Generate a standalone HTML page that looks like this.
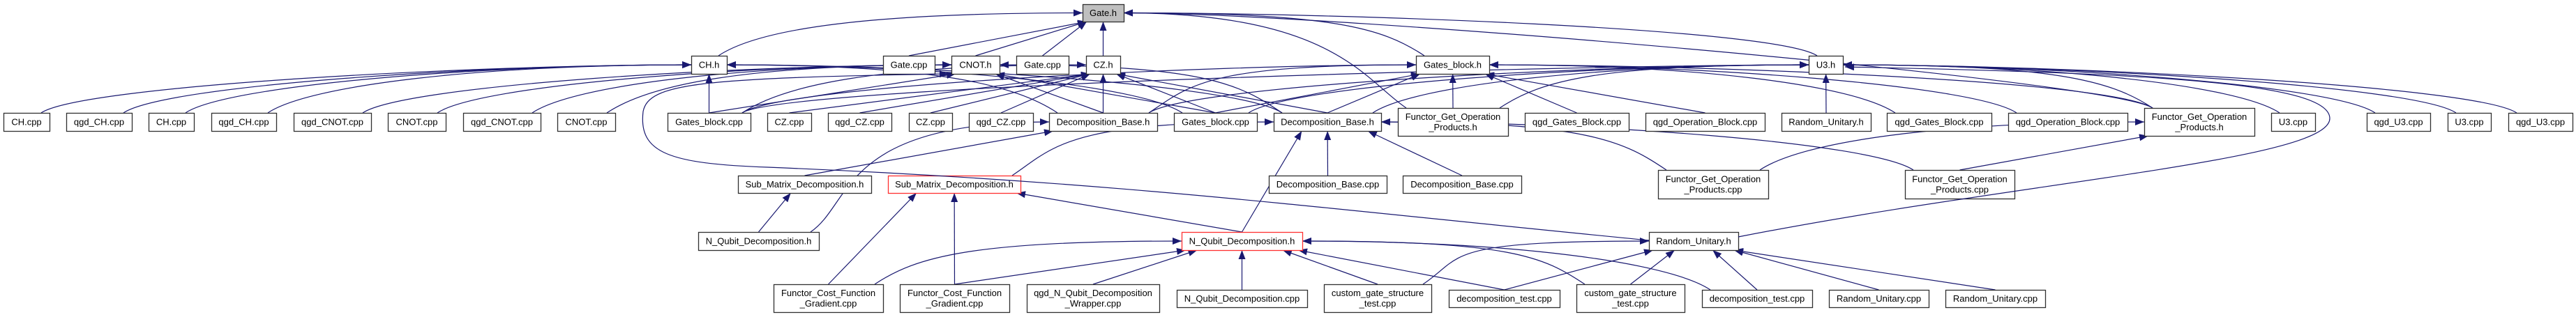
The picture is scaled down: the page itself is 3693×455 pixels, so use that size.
<!DOCTYPE html>
<html><head><meta charset="utf-8"><style>
html,body{margin:0;padding:0;background:#fff;}
svg{display:block;}
text{font-family:"Liberation Sans",sans-serif;font-size:13px;fill:#000;}
</style></head><body>
<svg id="s" width="3693" height="455" viewBox="0 0 3693 455" xmlns="http://www.w3.org/2000/svg">
<defs><marker id="a" markerUnits="userSpaceOnUse" markerWidth="14" markerHeight="12" refX="13" refY="5" orient="auto"><path d="M0,0 L13,5 L0,10 z" fill="#191970"/></marker></defs>
<g id="E" fill="none" stroke="#191970" stroke-width="1.2"></g>
<g id="N"></g>
<path d="M2364,345 C1900,300 1600,260 1100,240 C960,235 915,220 922,160 C930,120 1000,112 1360,106" fill="none" stroke="#191970" stroke-width="1.2" marker-end="url(#a)"/>
<path d="M2492,340 C2900,260 3340,230 3340,170 C3340,120 3100,105 2645,96" fill="none" stroke="#191970" stroke-width="1.2" marker-end="url(#a)"/>
</svg>
<script>
var N={
G:[1552,1611,6,31,["Gate.h"],"g"],
CHh:[991,1042,80,106,["CH.h"]],
Gc1:[1266,1340,80,106,["Gate.cpp"]],
CNh:[1364,1433,80,106,["CNOT.h"]],
Gc2:[1457,1532,80,106,["Gate.cpp"]],
CZh:[1557,1606,80,106,["CZ.h"]],
GBh:[2030,2135,80,106,["Gates_block.h"]],
U3h:[2593,2642,80,106,["U3.h"]],
c1:[5,71,162,188,["CH.cpp"]],
c2:[95,189,162,188,["qgd_CH.cpp"]],
c3:[213,278,162,188,["CH.cpp"]],
c4:[303,396,162,188,["qgd_CH.cpp"]],
c5:[421,532,162,188,["qgd_CNOT.cpp"]],
c6:[556,639,162,188,["CNOT.cpp"]],
c7:[664,775,162,188,["qgd_CNOT.cpp"]],
c8:[799,882,162,188,["CNOT.cpp"]],
GB1:[957,1076,162,188,["Gates_block.cpp"]],
z1:[1100,1163,162,188,["CZ.cpp"]],
z2:[1187,1278,162,188,["qgd_CZ.cpp"]],
z3:[1303,1365,162,188,["CZ.cpp"]],
z4:[1389,1481,162,188,["qgd_CZ.cpp"]],
DB1:[1504,1659,162,188,["Decomposition_Base.h"]],
GB2:[1683,1802,162,188,["Gates_block.cpp"]],
DB2:[1826,1980,162,188,["Decomposition_Base.h"]],
F1:[2004,2162,155,195,["Functor_Get_Operation","_Products.h"]],
qG1:[2186,2335,162,188,["qgd_Gates_Block.cpp"]],
qO1:[2359,2530,162,188,["qgd_Operation_Block.cpp"]],
RU1:[2554,2682,162,188,["Random_Unitary.h"]],
qG2:[2705,2855,162,188,["qgd_Gates_Block.cpp"]],
qO2:[2879,3050,162,188,["qgd_Operation_Block.cpp"]],
F2:[3074,3232,155,195,["Functor_Get_Operation","_Products.h"]],
u1:[3256,3319,162,188,["U3.cpp"]],
u2:[3393,3484,162,188,["qgd_U3.cpp"]],
u3:[3509,3571,162,188,["U3.cpp"]],
u4:[3596,3688,162,188,["qgd_U3.cpp"]],
SM1:[1058,1249,252,277,["Sub_Matrix_Decomposition.h"]],
SM2:[1273,1463,252,277,["Sub_Matrix_Decomposition.h"],"r"],
DC1:[1819,1988,252,277,["Decomposition_Base.cpp"]],
DC2:[2011,2181,252,277,["Decomposition_Base.cpp"]],
FC1:[2377,2535,244,285,["Functor_Get_Operation","_Products.cpp"]],
FC2:[2731,2888,244,285,["Functor_Get_Operation","_Products.cpp"]],
NQ1:[1001,1174,333,359,["N_Qubit_Decomposition.h"]],
NQ2:[1694,1867,333,359,["N_Qubit_Decomposition.h"],"r"],
RU2:[2364,2492,333,359,["Random_Unitary.h"]],
CF1:[1109,1266,408,448,["Functor_Cost_Function","_Gradient.cpp"]],
CF2:[1290,1447,408,448,["Functor_Cost_Function","_Gradient.cpp"]],
W:[1472,1662,408,448,["qgd_N_Qubit_Decomposition","_Wrapper.cpp"]],
NC:[1687,1874,416,441,["N_Qubit_Decomposition.cpp"]],
cg1:[1898,2052,408,448,["custom_gate_structure","_test.cpp"]],
dt1:[2077,2236,416,441,["decomposition_test.cpp"]],
cg2:[2260,2415,408,448,["custom_gate_structure","_test.cpp"]],
dt2:[2440,2598,416,441,["decomposition_test.cpp"]],
RC1:[2622,2765,416,441,["Random_Unitary.cpp"]],
RC2:[2789,2932,416,441,["Random_Unitary.cpp"]]
};
var E={
G:["CHh","Gc1","CNh","Gc2","CZh","GBh","U3h","F1","F2"],
CHh:["c1","c2","c3","c4","GB1","DB1","GB2","DB2"],
CNh:["c5","c6","c7","c8","GB1","DB1","GB2","DB2"],
CZh:["z1","z2","z3","z4","GB1","DB1","GB2","DB2"],
GBh:["GB1","GB2","DB1","DB2","F1","F2","qG1","qO1","qG2","qO2"],
U3h:["GB1","DB1","GB2","DB2","F1","F2","u1","u2","u3","u4","RU1"],
DB1:["SM1","NQ1"],
DB2:["SM2","NQ2","DC1","DC2","FC1","FC2"],
F2:["FC1","FC2"],
SM1:["NQ1"],
SM2:["CF1","CF2","NQ2"],
NQ2:["CF1","CF2","W","NC","cg1","dt1","cg2","dt2"],
RU2:["cg1","dt1","cg2","dt2","RC1","RC2"]
};
var ns="http://www.w3.org/2000/svg",eg=document.getElementById("E"),ng=document.getElementById("N");
function el(t,a,p){var e=document.createElementNS(ns,t);for(var k in a)e.setAttribute(k,a[k]);p.appendChild(e);return e;}
for(var p in E){var P=N[p];E[p].forEach(function(c){var C=N[c];
 var cx=(C[0]+C[1])/2,cy=C[2],pcx=(P[0]+P[1])/2,d;
 var dx=cx-pcx;
 if(Math.abs(dx)>450){
  var px=dx<0?P[0]:P[1],py=(P[2]+P[3])/2;
  var sx=dx<0?C[1]-12:C[0]+12;
  d="M"+sx+","+cy+" C"+(sx+(dx<0?60:-60))+","+(cy-40)+" "+(px+(dx<0?-300:300))+","+py+" "+px+","+py;
 } else {
  var hw=(P[1]-P[0])/2-6;var off=Math.max(-hw,Math.min(hw,dx*0.3));
  var tx=pcx+off,ty=P[3];
  var sx2=cx-dx*0.0;
  d="M"+sx2+","+cy+" L"+tx+","+ty;
 }
 el("path",{d:d,"marker-end":"url(#a)"},eg);
});}
for(var k in N){var n=N[k];
 el("rect",{x:n[0]+0.5,y:n[2]+0.5,width:n[1]-n[0],height:n[3]-n[2],fill:n[5]=="g"?"#bfbfbf":"#fff",stroke:n[5]=="r"?"#ff3030":"#303030","stroke-width":1.3},ng);
 var L=n[4],mx=(n[0]+n[1])/2,my=(n[2]+n[3])/2;
 L.forEach(function(s,i){var t=el("text",{x:mx,y:my+4.5+(i-(L.length-1)/2)*15,"text-anchor":"middle"},ng);t.textContent=s;});
}
</script>
</body></html>
